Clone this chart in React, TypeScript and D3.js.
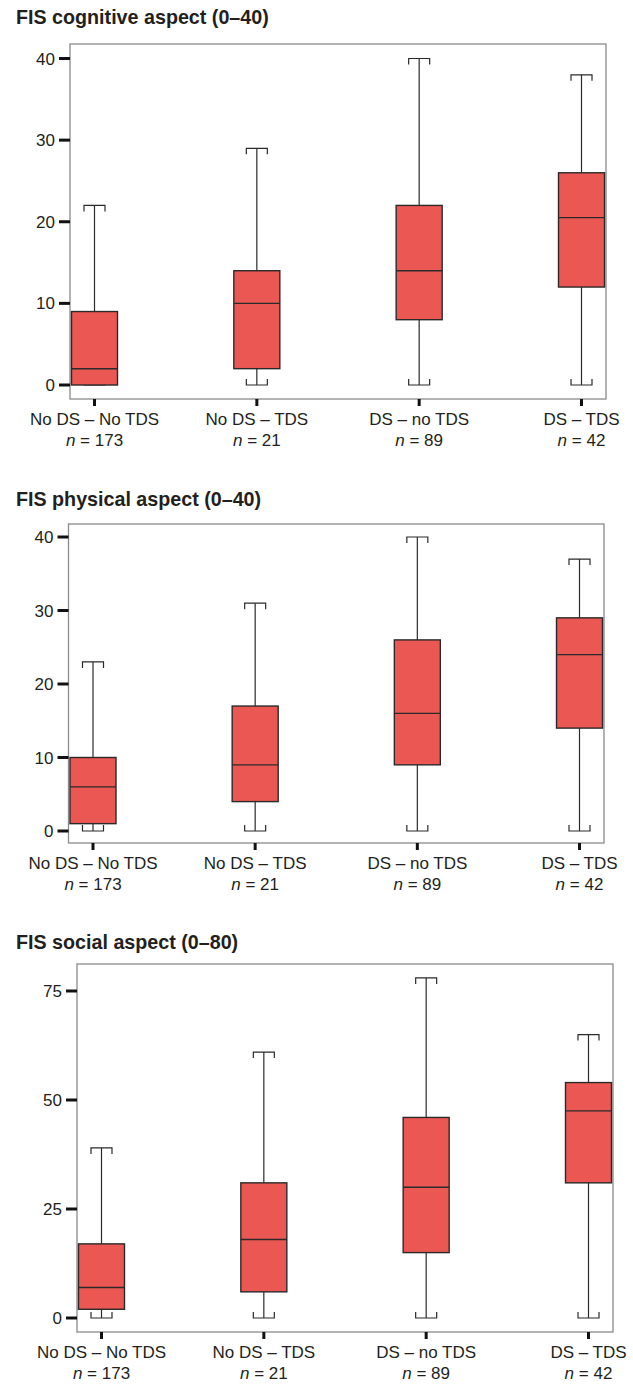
import React from "react";
import * as d3 from "d3";

const categories = ["No DS – No TDS", "No DS – TDS", "DS – no TDS", "DS – TDS"];
const counts = [173, 21, 89, 42];

// [low, q1, median, q3, high]
const cognitive = [
  [0, 0, 2, 9, 22],
  [0, 2, 10, 14, 29],
  [0, 8, 14, 22, 40],
  [0, 12, 20.5, 26, 38],
];
const physical = [
  [0, 1, 6, 10, 23],
  [0, 4, 9, 17, 31],
  [0, 9, 16, 26, 40],
  [0, 14, 24, 29, 37],
];
const social = [
  [0, 2, 7, 17, 39],
  [0, 6, 18, 31, 61],
  [0, 15, 30, 46, 78],
  [0, 31, 47.5, 54, 65],
];

const cognitiveTicks = [0, 10, 20, 30, 40];
const physicalTicks = [0, 10, 20, 30, 40];
const socialTicks = [0, 25, 50, 75];

const titles = ["FIS cognitive aspect (0–40)", "FIS physical aspect (0–40)", "FIS social aspect (0–80)"];

const FONT = "'Liberation Sans', Arial, Helvetica, sans-serif";
const FILL = "#EB5753";

type Panel = {
  title: string;
  data: number[][];
  ticks: number[];
  frame: { l: number; t: number; r: number; b: number };
  yDomain: [number, number];
  yRange: [number, number];
  titleY: number;
};

const panels: Panel[] = [
  {
    title: titles[0],
    data: cognitive,
    ticks: cognitiveTicks,
    frame: { l: 70, t: 44, r: 606, b: 399 },
    yDomain: [0, 40],
    yRange: [385, 58.5],
    titleY: 24,
  },
  {
    title: titles[1],
    data: physical,
    ticks: physicalTicks,
    frame: { l: 68.5, t: 524, r: 604, b: 843 },
    yDomain: [0, 40],
    yRange: [831, 537],
    titleY: 506,
  },
  {
    title: titles[2],
    data: social,
    ticks: socialTicks,
    frame: { l: 77, t: 964, r: 613, b: 1332 },
    yDomain: [0, 75],
    yRange: [1318, 991],
    titleY: 949,
  },
];

const BOX_W = 46;
const CAP_W = 21;
const CAP_T = 6;

function BoxPanel({ p }: { p: Panel }) {
  const { frame } = p;
  const x = d3
    .scalePoint<string>()
    .domain(categories)
    .range([frame.l + 24.5, frame.r - 24.5]);
  const y = d3.scaleLinear().domain(p.yDomain).range(p.yRange);
  const stroke = "#2a2a2a";
  return (
    <g>
      <text x={16} y={p.titleY} fontFamily={FONT} fontWeight="bold" fontSize={19.7} fill="#231f20">
        {p.title}
      </text>
      <rect
        x={frame.l}
        y={frame.t}
        width={frame.r - frame.l}
        height={frame.b - frame.t}
        fill="none"
        stroke="#8a8a8a"
        strokeWidth={1.3}
      />
      {p.ticks.map((t) => (
        <g key={t}>
          <line x1={frame.l - 11} x2={frame.l} y1={y(t)} y2={y(t)} stroke="#111" strokeWidth={3} />
          <text
            x={frame.l - 15}
            y={y(t)}
            dy="0.36em"
            textAnchor="end"
            fontFamily={FONT}
            fontSize={17}
            fill="#231f20"
          >
            {t}
          </text>
        </g>
      ))}
      {categories.map((c, i) => {
        const cx = x(c)!;
        const [lo, q1, med, q3, hi] = p.data[i];
        return (
          <g key={c}>
            <line x1={cx} x2={cx} y1={y(hi)} y2={y(q3)} stroke={stroke} strokeWidth={1.2} />
            <line x1={cx} x2={cx} y1={y(q1)} y2={y(lo)} stroke={stroke} strokeWidth={1.2} />
            <path
              d={`M${cx - CAP_W / 2},${y(hi) + CAP_T}V${y(hi)}H${cx + CAP_W / 2}V${y(hi) + CAP_T}`}
              fill="none"
              stroke={stroke}
              strokeWidth={1.2}
            />
            <path
              d={`M${cx - CAP_W / 2},${y(lo) - CAP_T}V${y(lo)}H${cx + CAP_W / 2}V${y(lo) - CAP_T}`}
              fill="none"
              stroke={stroke}
              strokeWidth={1.2}
            />
            <rect
              x={cx - BOX_W / 2}
              y={y(q3)}
              width={BOX_W}
              height={y(q1) - y(q3)}
              fill={FILL}
              stroke={stroke}
              strokeWidth={1.4}
            />
            <line
              x1={cx - BOX_W / 2}
              x2={cx + BOX_W / 2}
              y1={y(med)}
              y2={y(med)}
              stroke={stroke}
              strokeWidth={1.4}
            />
            <line x1={cx} x2={cx} y1={frame.b} y2={frame.b + 7} stroke="#111" strokeWidth={3} />
            <text
              x={cx}
              y={frame.b + 26}
              textAnchor="middle"
              fontFamily={FONT}
              fontSize={17}
              fill="#231f20"
            >
              {c}
            </text>
            <text
              x={cx}
              y={frame.b + 47}
              textAnchor="middle"
              fontFamily={FONT}
              fontSize={17}
              fill="#231f20"
            >
              <tspan fontStyle="italic">n</tspan>
              {` = ${counts[i]}`}
            </text>
          </g>
        );
      })}
    </g>
  );
}

export default function App() {
  return (
    <svg
      width={633}
      height={1386}
      style={{ position: "absolute", left: 0, top: 0, background: "#fff" }}
    >
      <rect width={633} height={1386} fill="#fff" />
      {panels.map((p) => (
        <BoxPanel key={p.title} p={p} />
      ))}
    </svg>
  );
}
